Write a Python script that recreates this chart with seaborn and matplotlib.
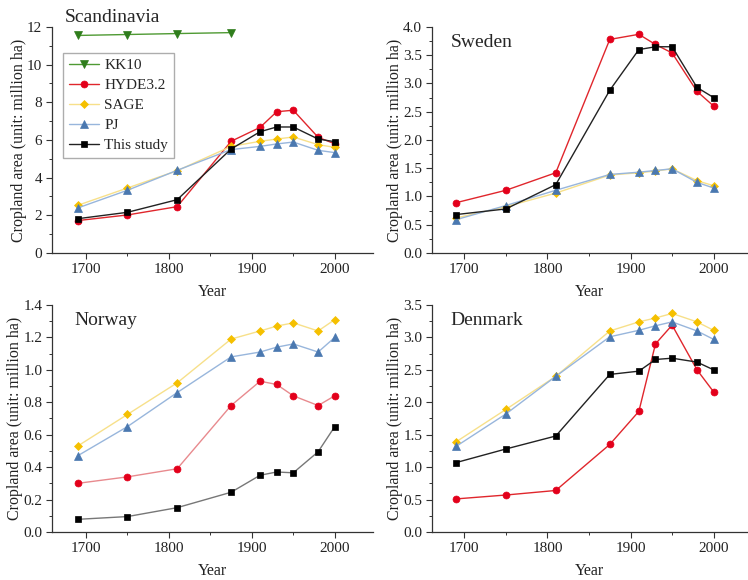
import matplotlib
matplotlib.use("Agg")
import matplotlib.pyplot as plt
import seaborn as sns
import pandas as pd
from matplotlib.ticker import MultipleLocator, AutoMinorLocator

sns.set_theme(style="ticks")
plt.rcParams['font.family'] = ['Liberation Serif', 'DejaVu Serif']

years = [1690, 1750, 1810, 1875, 1910, 1930, 1950, 1980, 2000]
kk10_years = [1690, 1750, 1810, 1875]

scan_kk10 = [11.55, 11.6, 11.65, 11.7]
scan_hyde = [1.72, 2.02, 2.46, 5.93, 6.67, 7.50, 7.58, 6.14, 5.80]
scan_sage = [2.53, 3.45, 4.37, 5.66, 5.93, 6.05, 6.16, 5.75, 5.61]
scan_pj = [2.39, 3.33, 4.39, 5.49, 5.66, 5.79, 5.89, 5.45, 5.33]
scan_this = [1.82, 2.16, 2.83, 5.52, 6.44, 6.69, 6.69, 6.05, 5.91]

swe_hyde = [0.89, 1.11, 1.42, 3.78, 3.87, 3.69, 3.54, 2.86, 2.60]
swe_sage = [0.62, 0.82, 1.06, 1.38, 1.42, 1.45, 1.49, 1.28, 1.19]
swe_pj = [0.59, 0.84, 1.11, 1.39, 1.43, 1.46, 1.49, 1.25, 1.15]
swe_this = [0.68, 0.78, 1.21, 2.88, 3.60, 3.65, 3.65, 2.93, 2.75]

nor_hyde = [0.30, 0.34, 0.39, 0.78, 0.93, 0.91, 0.84, 0.78, 0.84]
nor_sage = [0.53, 0.725, 0.92, 1.19, 1.24, 1.27, 1.29, 1.24, 1.31]
nor_pj = [0.47, 0.65, 0.86, 1.08, 1.11, 1.14, 1.16, 1.11, 1.20]
nor_this = [0.078, 0.095, 0.15, 0.245, 0.35, 0.37, 0.365, 0.495, 0.65]

den_hyde = [0.51, 0.57, 0.64, 1.35, 1.86, 2.90, 3.19, 2.50, 2.16]
den_sage = [1.39, 1.89, 2.40, 3.10, 3.24, 3.30, 3.37, 3.24, 3.11]
den_pj = [1.32, 1.82, 2.40, 3.01, 3.11, 3.18, 3.24, 3.10, 2.97]
den_this = [1.07, 1.28, 1.48, 2.43, 2.48, 2.66, 2.68, 2.62, 2.50]

series_names = ["KK10", "HYDE3.2", "SAGE", "PJ", "This study"]
styles = {
    "KK10": dict(line="#4f9a33", mk="#2f7d1c", marker="v"),
    "HYDE3.2": dict(line="#e0262c", mk="#e3001b", marker="o"),
    "SAGE": dict(line="#f7e08a", mk="#f5c000", marker="D"),
    "PJ": dict(line="#98b6dc", mk="#4a78b0", marker="^"),
    "This study": dict(line="#222222", mk="#000000", marker="s"),
}
msizes = {"v": 5.5, "o": 5, "D": 4.2, "^": 5.5, "s": 4.8}

panels = [
    dict(name="Scandinavia", data={"KK10": (kk10_years, scan_kk10), "HYDE3.2": (years, scan_hyde),
                                    "SAGE": (years, scan_sage), "PJ": (years, scan_pj), "This study": (years, scan_this)},
         ylim=(0, 12), step=2, fmt="%d", rect=[0.0695, 0.5638, 0.429, 0.3897], xlim=(1659, 2046), hyde_line="#e0262c"),
    dict(name="Sweden", data={"HYDE3.2": (years, swe_hyde), "SAGE": (years, swe_sage),
                               "PJ": (years, swe_pj), "This study": (years, swe_this)},
         ylim=(0, 4.0), step=0.5, fmt="%.1f", rect=[0.5775, 0.5638, 0.421, 0.3897], xlim=(1661, 2040), hyde_line="#e0262c"),
    dict(name="Norway", data={"HYDE3.2": (years, nor_hyde), "SAGE": (years, nor_sage),
                               "PJ": (years, nor_pj), "This study": (years, nor_this)},
         ylim=(0, 1.4), step=0.2, fmt="%.1f", rect=[0.0695, 0.0828, 0.429, 0.3913], xlim=(1659, 2046), hyde_line="#e88a8e"),
    dict(name="Denmark", data={"HYDE3.2": (years, den_hyde), "SAGE": (years, den_sage),
                                "PJ": (years, den_pj), "This study": (years, den_this)},
         ylim=(0, 3.5), step=0.5, fmt="%.1f", rect=[0.5775, 0.0828, 0.421, 0.3913], xlim=(1661, 2040), hyde_line="#e0262c"),
]

fig = plt.figure(figsize=(7.48, 5.8), dpi=100)

for i, p in enumerate(panels):
    ax = fig.add_axes(p["rect"])
    for nm in series_names:
        if nm not in p["data"]:
            continue
        xs, ys = p["data"][nm]
        st = styles[nm]
        lc = p["hyde_line"] if nm == "HYDE3.2" else st["line"]
        if i == 2 and nm == "This study":
            lc = "#777777"
        df = pd.DataFrame({"Year": xs, "val": ys})
        sns.lineplot(data=df, x="Year", y="val", ax=ax, color=lc, lw=1.0,
                     marker=st["marker"], markersize=msizes[st["marker"]],
                     markerfacecolor=st["mk"], markeredgecolor=st["mk"], markeredgewidth=0.5,
                     label=nm, legend=False)
    ax.set_xlim(*p["xlim"])
    ax.set_ylim(*p["ylim"])
    ax.set_xticks([1700, 1800, 1900, 2000])
    ax.xaxis.set_minor_locator(MultipleLocator(50))
    ax.yaxis.set_major_locator(MultipleLocator(p["step"]))
    ax.yaxis.set_minor_locator(AutoMinorLocator(2))
    ax.yaxis.set_major_formatter(matplotlib.ticker.FormatStrFormatter(p["fmt"]))
    sns.despine(ax=ax)
    for s in ["left", "bottom"]:
        ax.spines[s].set_linewidth(0.9)
        ax.spines[s].set_color("#333333")
    ax.tick_params(axis="both", which="major", direction="out", length=4, width=0.8,
                   labelsize=11, colors="#333333", labelcolor="#222222", pad=3)
    ax.tick_params(axis="both", which="minor", direction="out", length=2, width=0.7, colors="#333333")
    ax.set_xlabel("Year", fontsize=11.5, labelpad=6, color="#222222")
    ax.set_ylabel("Cropland area (unit: million ha)", fontsize=11.5, labelpad=0, color="#222222")
    if i == 0:
        ax.text(0.04, 1.04, p["name"], transform=ax.transAxes, fontsize=14, va="center", ha="left")
        ax.legend(loc="upper left", bbox_to_anchor=(0.035, 0.885), fontsize=11, frameon=True,
                  fancybox=False, edgecolor="#999999", handlelength=2.0, handletextpad=0.35,
                  borderpad=0.35, labelspacing=0.42, borderaxespad=0.0)
    else:
        ax.text(0.06 if i != 2 else 0.07, 0.93, p["name"], transform=ax.transAxes, fontsize=14,
                va="center", ha="left")

fig.savefig("out.png", dpi=100)
